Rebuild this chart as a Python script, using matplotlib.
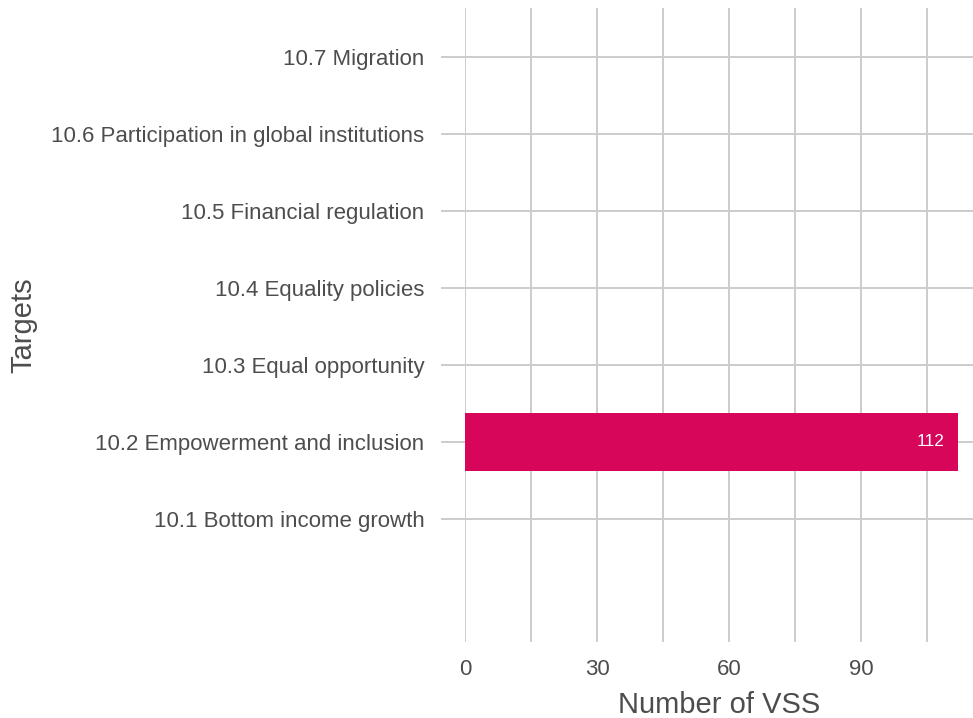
import numpy as np
import matplotlib.pyplot as plt

plt.rcParams['font.family'] = ['Liberation Sans', 'DejaVu Sans']

targets = ['10.1 Bottom income growth', '10.2 Empowerment and inclusion',
           '10.3 Equal opportunity', '10.4 Equality policies',
           '10.5 Financial regulation', '10.6 Participation in global institutions',
           '10.7 Migration']
counts = [0, 112, 0, 0, 0, 0, 0]

fig = plt.figure(figsize=[9.73, 7.18], dpi=100)
ax = fig.add_axes([0.478, 0.106, 0.522, 0.883])

y = np.arange(len(targets))
ax.barh(y, counts, height=0.75, color='#D7065A', zorder=3)
for yi, c in zip(y, counts):
    if c > 0:
        ax.text(c - 3, yi, str(c), color='white', fontsize=12.5,
                ha='right', va='center', zorder=4)

ax.set_xlim(0, 115.5)
ax.set_ylim(-1.6, 6.64)
ax.set_xticks([0, 30, 60, 90])
ax.set_xticks([15, 45, 75, 105], minor=True)
ax.set_yticks(y)
ax.set_yticklabels(targets)

grid_col = '#cccccc'
ax.grid(True, which='both', axis='x', color=grid_col, linewidth=1.4, zorder=0)
ax.grid(True, axis='y', color=grid_col, linewidth=1.4, zorder=0)
for s in ax.spines.values():
    s.set_visible(False)
ax.tick_params(axis='y', length=17.3, width=1.4, color=grid_col, pad=12,
               labelsize=16, labelcolor='#4d4d4d')
ax.tick_params(axis='x', which='both', length=0, pad=12,
               labelsize=16, labelcolor='#4d4d4d')

ax.set_xlabel('Number of VSS', fontsize=21, color='#4d4d4d', labelpad=8)
ax.set_ylabel('Targets', fontsize=21, color='#4d4d4d')
ax.yaxis.set_label_coords(-0.843, 0.5)

plt.savefig('out.png', dpi=100)
